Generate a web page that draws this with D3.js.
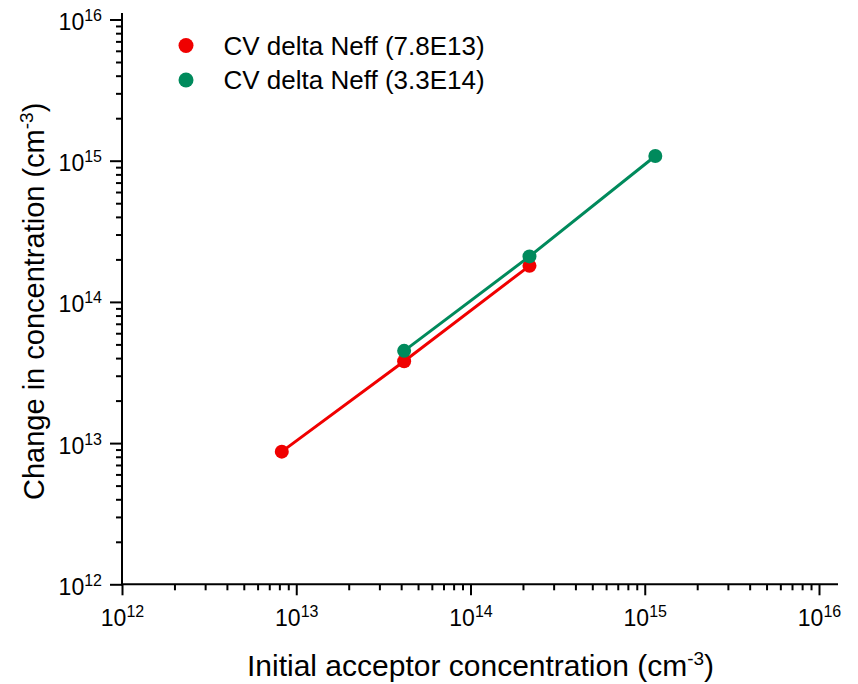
<!DOCTYPE html>
<html>
<head>
<meta charset="utf-8">
<script src="https://cdn.jsdelivr.net/npm/d3@7"></script>
<style>
  body { margin: 0; background: #fff; }
  svg { display: block; font-family: Arial, "Liberation Sans", sans-serif; }
  .tick text { font-size: 23px; fill: #000; }
</style>
</head>
<body>
<div id="chart"></div>
<script>
// data
const redX = [8.26e12, 4.16e13, 2.18e14];
const redY = [8.7e12, 3.8e13, 1.8e14];
const greenX = [4.16e13, 2.18e14, 1.15e15];
const greenY = [4.5e13, 2.1e14, 1.08e15];
const seriesNames = ["CV delta Neff (7.8E13)", "CV delta Neff (3.3E14)"];
const decades = [12, 13, 14, 15, 16];

const width = 858;
const height = 684;
const margin = { top: 19.5, right: 39, bottom: 99.7, left: 122 };
const colors = ["#f00000", "#008a5c"];

const svg = d3.select("#chart")
  .append("svg")
  .attr("width", width)
  .attr("height", height);

const x = d3.scaleLog()
  .domain([1e12, 1e16])
  .range([margin.left, width - margin.right]);
const y = d3.scaleLog()
  .domain([1e12, 1e16])
  .range([height - margin.bottom, margin.top]);

const majors = decades.map((d) => Math.pow(10, d));
const minors = [];
decades.slice(0, -1).forEach((d) => {
  for (let k = 2; k <= 9; k++) minors.push(k * Math.pow(10, d));
});

// "10" with the exponent raised
const sup = (sel) => {
  sel.selectAll(".tick text").each(function (d) {
    const t = d3.select(this).text("");
    t.append("tspan").text("10");
    t.append("tspan")
      .attr("dy", -9)
      .style("font-size", "16px")
      .text(Math.round(Math.log10(d)));
  });
};

// x axis
const gx = svg.append("g")
  .attr("transform", `translate(0,${height - margin.bottom})`);
gx.append("g")
  .call(d3.axisBottom(x).tickValues(minors).tickSize(6).tickFormat(""))
  .call((g) => g.select(".domain").remove())
  .call((g) => g.selectAll("line").attr("stroke-width", 2));
gx.append("g")
  .call(d3.axisBottom(x).tickValues(majors).tickSize(11))
  .call((g) => g.select(".domain").remove())
  .call((g) => g.selectAll("line").attr("stroke-width", 2))
  .call((g) => g.selectAll("text").attr("y", 42).attr("dy", 0))
  .call(sup);
gx.append("line")
  .attr("x1", margin.left - 1)
  .attr("x2", 838)
  .attr("stroke", "#000")
  .attr("stroke-width", 2);

// y axis
const gy = svg.append("g")
  .attr("transform", `translate(${margin.left},0)`);
gy.append("g")
  .call(d3.axisLeft(y).tickValues(minors).tickSize(6).tickFormat(""))
  .call((g) => g.select(".domain").remove())
  .call((g) => g.selectAll("line").attr("stroke-width", 2));
gy.append("g")
  .call(d3.axisLeft(y).tickValues(majors).tickSize(12))
  .call((g) => g.select(".domain").remove())
  .call((g) => g.selectAll("line").attr("stroke-width", 2))
  .call((g) => g.selectAll("text").attr("x", -20).attr("dy", 10))
  .call(sup);
gy.append("line")
  .attr("y1", height - margin.bottom + 1)
  .attr("y2", 13)
  .attr("stroke", "#000")
  .attr("stroke-width", 2);

// axis titles
const xt = svg.append("text")
  .attr("x", 247)
  .attr("y", 676)
  .style("font-size", "30px");
xt.append("tspan").text("Initial acceptor concentration (cm");
xt.append("tspan").attr("dy", -11).style("font-size", "19px").text("-3");
xt.append("tspan").attr("dy", 11).text(")");

const yt = svg.append("text")
  .attr("transform", "translate(44,500) rotate(-90)")
  .style("font-size", "29px");
yt.append("tspan").text("Change in concentration (cm");
yt.append("tspan").attr("dy", -11).style("font-size", "19px").text("-3");
yt.append("tspan").attr("dy", 11).text(")");

// series
const series = [
  { name: seriesNames[0], xs: redX, ys: redY, color: colors[0] },
  { name: seriesNames[1], xs: greenX, ys: greenY, color: colors[1] },
];
const line = d3.line()
  .x((d) => x(d[0]))
  .y((d) => y(d[1]));

series.forEach((s) => {
  const pts = d3.zip(s.xs, s.ys);
  svg.append("path")
    .datum(pts)
    .attr("fill", "none")
    .attr("stroke", s.color)
    .attr("stroke-width", 3)
    .attr("d", line);
  svg.append("g")
    .selectAll("circle")
    .data(pts)
    .join("circle")
    .attr("cx", (d) => x(d[0]))
    .attr("cy", (d) => y(d[1]))
    .attr("r", 7)
    .attr("fill", s.color);
});

// legend
const legend = svg.append("g")
  .selectAll("g")
  .data(series)
  .join("g")
  .attr("transform", (d, i) => `translate(186,${45.5 + i * 34.5})`);
legend.append("circle")
  .attr("r", 7.5)
  .attr("fill", (d) => d.color);
legend.append("text")
  .attr("x", 37.5)
  .attr("y", 9)
  .style("font-size", "26px")
  .text((d) => d.name);
</script>
</body>
</html>
